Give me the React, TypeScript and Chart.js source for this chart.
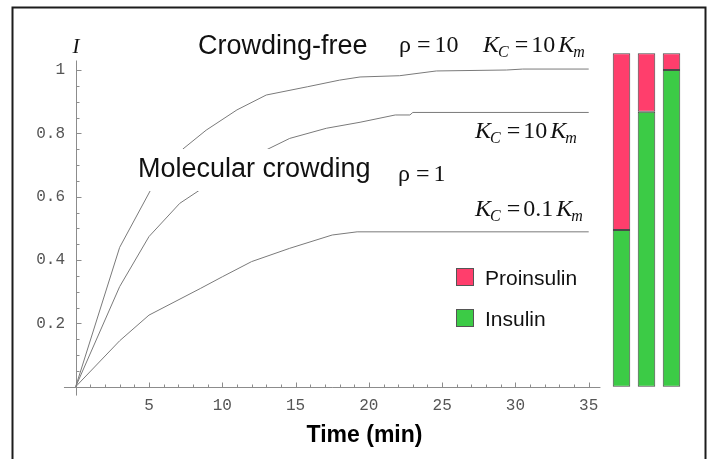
import React, { useEffect, useRef } from 'react';
import { Chart, registerables } from 'chart.js';

Chart.register(...registerables);

// ---- data ----
// Crowding-free, rho = 10, K_C = 10 K_m
const freeTime = [0, 3, 5.1, 7.3, 8.9, 11, 13, 15.8, 18, 19.4, 22.1, 24.6, 29.4, 30.5, 35];
const freeI = [0, 0.44, 0.62, 0.75, 0.81, 0.874, 0.921, 0.947, 0.968, 0.978, 0.982, 0.997, 1.0, 1.003, 1.003];
// Molecular crowding, rho = 1, K_C = 10 K_m
const crowdHighTime = [0, 3, 5, 7.1, 8.4, 13.1, 14.6, 17.1, 19.4, 21.8, 22.8, 23, 35];
const crowdHighI = [0, 0.316, 0.474, 0.579, 0.619, 0.75, 0.784, 0.816, 0.835, 0.858, 0.858, 0.866, 0.866];
// Molecular crowding, rho = 1, K_C = 0.1 K_m
const crowdLowTime = [0, 3, 5, 8.5, 10, 12, 14.6, 17.5, 19.2, 35];
const crowdLowI = [0, 0.145, 0.226, 0.31, 0.347, 0.395, 0.437, 0.479, 0.489, 0.489];

const xTickValues = [5, 10, 15, 20, 25, 30, 35];
const yTickValues = [0.2, 0.4, 0.6, 0.8, 1];
const xTitle = 'Time (min)';
const yTitle = 'I';

// stacked bars on the right
const barCategories = ['ρ=1, K_C=0.1K_m', 'ρ=1, K_C=10K_m', 'ρ=10, K_C=10K_m'];
const insulinValues = [0.495, 0.868, 1.0];
const proinsulinValues = [0.558, 0.185, 0.053];
const barSeriesNames = ['Insulin', 'Proinsulin'];

// ---- styles ----
const SERIF = '"Liberation Serif", "Times New Roman", serif';
const SANS = '"Liberation Sans", Arial, Helvetica, sans-serif';
const MONO = '"Liberation Mono", "Courier New", monospace';
const CURVE_COLOR = '#7a7a7a';
const AXIS_COLOR = '#8c8c8c';
const PINK = '#FF3E6C';
const GREEN = '#3CCB46';
const Y_MIN = -0.03;
const Y_MAX = 1.12;

type Run = { t: string; f: string; dy?: number; dx?: number };

function drawRuns(ctx: CanvasRenderingContext2D, x: number, y: number, runs: Run[]) {
  let cx = x;
  for (const r of runs) {
    ctx.font = r.f;
    cx += r.dx || 0;
    ctx.fillText(r.t, cx, y + (r.dy || 0));
    cx += ctx.measureText(r.t).width;
  }
}

const big = `24px ${SERIF}`;
const bigIt = `italic 24px ${SERIF}`;
const subIt = `italic 16px ${SERIF}`;

function kRatio(value: string): Run[] {
  return [
    { t: 'K', f: bigIt },
    { t: 'C', f: subIt, dy: 5, dx: -1 },
    { t: '=', f: big, dx: 6 },
    { t: value, f: big, dx: 3 },
    { t: 'K', f: bigIt, dx: 3 },
    { t: 'm', f: subIt, dy: 5, dx: -1 },
  ];
}

const axesPlugin = {
  id: 'mathAxes',
  beforeDatasetsDraw(chart: any) {
    const { ctx } = chart;
    const x = chart.scales.x;
    const y = chart.scales.y;
    const y0 = Math.round(y.getPixelForValue(0)) + 0.5;
    const x0 = Math.round(x.getPixelForValue(0)) + 0.5;
    ctx.save();
    ctx.strokeStyle = AXIS_COLOR;
    ctx.lineWidth = 1;
    ctx.beginPath();
    ctx.moveTo(x.getPixelForValue(-0.8), y0);
    ctx.lineTo(x.getPixelForValue(35.8), y0);
    ctx.moveTo(x0, y.getPixelForValue(-0.028));
    ctx.lineTo(x0, y.getPixelForValue(1.03));
    for (let t = 1; t <= 35; t++) {
      const px = Math.round(x.getPixelForValue(t)) + 0.5;
      const len = t % 5 === 0 ? 5 : 3;
      ctx.moveTo(px, y0);
      ctx.lineTo(px, y0 - len);
    }
    for (let k = 1; k <= 20; k++) {
      const py = Math.round(y.getPixelForValue(k * 0.05)) + 0.5;
      const len = k % 4 === 0 ? 5 : 3;
      ctx.moveTo(x0, py);
      ctx.lineTo(x0 + len, py);
    }
    ctx.stroke();
    ctx.restore();
  },
};

const annotationPlugin = {
  id: 'annotations',
  afterDatasetsDraw(chart: any) {
    const { ctx } = chart;
    ctx.save();
    ctx.textBaseline = 'alphabetic';
    ctx.textAlign = 'left';

    // white box behind "Molecular crowding" hides curves
    ctx.fillStyle = '#ffffff';
    ctx.fillRect(134, 149, 244, 42);

    ctx.fillStyle = '#111111';
    ctx.font = `27px ${SANS}`;
    ctx.fillText('Crowding-free', 198, 54);
    ctx.fillText('Molecular crowding', 138, 177);

    drawRuns(ctx, 399, 52, [{ t: 'ρ', f: big }, { t: '=', f: big, dx: 6 }, { t: '10', f: big, dx: 4 }]);
    drawRuns(ctx, 483, 52, kRatio('10'));
    drawRuns(ctx, 475, 138, kRatio('10'));
    drawRuns(ctx, 398, 181, [{ t: 'ρ', f: big }, { t: '=', f: big, dx: 6 }, { t: '1', f: big, dx: 4 }]);
    drawRuns(ctx, 475, 216, kRatio('0.1'));

    // y axis symbol
    ctx.font = `italic 21px ${SERIF}`;
    ctx.textAlign = 'center';
    ctx.fillText(yTitle, 76, 53);
    ctx.restore();
  },
  afterDraw(chart: any) {
    const { ctx } = chart;
    ctx.save();
    ctx.strokeStyle = '#1c1c1c';
    ctx.lineWidth = 2;
    ctx.strokeRect(12.5, 7.5, 693, 480);
    ctx.restore();
  },
};

const legendPlugin = {
  id: 'boxLegend',
  afterDraw(chart: any) {
    const { ctx } = chart;
    const items = chart.data.datasets.slice().reverse();
    ctx.save();
    items.forEach((ds: any, i: number) => {
      const top = 268 + i * 41;
      ctx.fillStyle = ds.backgroundColor;
      ctx.fillRect(456, top, 18, 18);
      ctx.strokeStyle = '#555555';
      ctx.lineWidth = 1;
      ctx.strokeRect(456.5, top + 0.5, 17, 17);
      ctx.fillStyle = '#111111';
      ctx.font = `21px ${SANS}`;
      ctx.textBaseline = 'alphabetic';
      ctx.fillText(ds.label, 485, top + 17);
    });
    ctx.restore();
  },
};

function toPoints(ts: number[], vs: number[]) {
  return ts.map((t, i) => ({ x: t, y: vs[i] }));
}

export default function App() {
  const lineRef = useRef<HTMLCanvasElement>(null);
  const barRef = useRef<HTMLCanvasElement>(null);

  useEffect(() => {
    if (!lineRef.current || !barRef.current) return;
    const curve = (label: string, ts: number[], vs: number[]) => ({
      label,
      data: toPoints(ts, vs),
      borderColor: CURVE_COLOR,
      borderWidth: 1,
      pointRadius: 0,
      tension: 0,
      fill: false,
    });

    const lineChart = new Chart(lineRef.current, {
      type: 'line',
      data: {
        datasets: [
          curve('Crowding-free ρ=10, K_C=10K_m', freeTime, freeI),
          curve('Molecular crowding ρ=1, K_C=10K_m', crowdHighTime, crowdHighI),
          curve('Molecular crowding ρ=1, K_C=0.1K_m', crowdLowTime, crowdLowI),
        ],
      },
      options: {
        responsive: false,
        animation: false,
        layout: { padding: { top: 32, right: 48, bottom: 0, left: 0 } },
        plugins: { legend: { display: false }, tooltip: { enabled: false } },
        scales: {
          x: {
            type: 'linear',
            min: -0.593,
            max: 40,
            border: { display: false },
            grid: { display: false, drawTicks: false },
            afterBuildTicks: (s: any) => {
              s.ticks = xTickValues.map((v) => ({ value: v }));
            },
            afterFit: (s: any) => {
              s.height = 62.8;
            },
            ticks: {
              font: { family: MONO, size: 16 },
              color: '#555555',
              padding: 0,
              maxRotation: 0,
              autoSkip: false,
              callback: (v: any) => String(v),
            },
            title: {
              display: true,
              text: xTitle,
              font: { family: SANS, size: 23, weight: 'bold' },
              color: '#000000',
              padding: { top: 0, bottom: 10 },
            },
          },
          y: {
            type: 'linear',
            min: Y_MIN,
            max: Y_MAX,
            border: { display: false },
            grid: { display: false, drawTicks: false },
            afterBuildTicks: (s: any) => {
              s.ticks = yTickValues.map((v) => ({ value: v }));
            },
            afterFit: (s: any) => {
              s.width = 67;
            },
            ticks: {
              font: { family: MONO, size: 16 },
              color: '#555555',
              padding: 2,
              autoSkip: false,
              callback: (v: any) => String(v),
            },
          },
        },
      },
      plugins: [axesPlugin, annotationPlugin],
    } as any);

    const area = lineChart.chartArea;
    const barChart = new Chart(barRef.current, {
      type: 'bar',
      data: {
        labels: barCategories,
        datasets: [
          {
            label: barSeriesNames[0],
            data: insulinValues,
            backgroundColor: GREEN,
            borderColor: '#4a4a4a',
            borderWidth: 1,
            borderSkipped: false,
            barPercentage: 0.7,
            categoryPercentage: 1,
          },
          {
            label: barSeriesNames[1],
            data: proinsulinValues,
            backgroundColor: PINK,
            borderColor: '#4a4a4a',
            borderWidth: 1,
            borderSkipped: false,
            barPercentage: 0.7,
            categoryPercentage: 1,
          },
        ],
      },
      options: {
        responsive: false,
        animation: false,
        layout: {
          padding: { top: area.top, bottom: 459 - area.bottom, left: 609, right: 26 },
        },
        plugins: { legend: { display: false }, tooltip: { enabled: false } },
        scales: {
          x: { display: false, stacked: true },
          y: { display: false, stacked: true, min: Y_MIN, max: Y_MAX },
        },
      },
      plugins: [legendPlugin],
    } as any);

    return () => {
      barChart.destroy();
      lineChart.destroy();
    };
  }, []);

  return (
    <div style={{ position: 'absolute', left: 0, top: 0, width: 710, height: 459, background: '#ffffff', overflow: 'hidden' }}>
      <canvas ref={lineRef} width={710} height={459} style={{ position: 'absolute', left: 0, top: 0 }} />
      <canvas ref={barRef} width={710} height={459} style={{ position: 'absolute', left: 0, top: 0 }} />
    </div>
  );
}
